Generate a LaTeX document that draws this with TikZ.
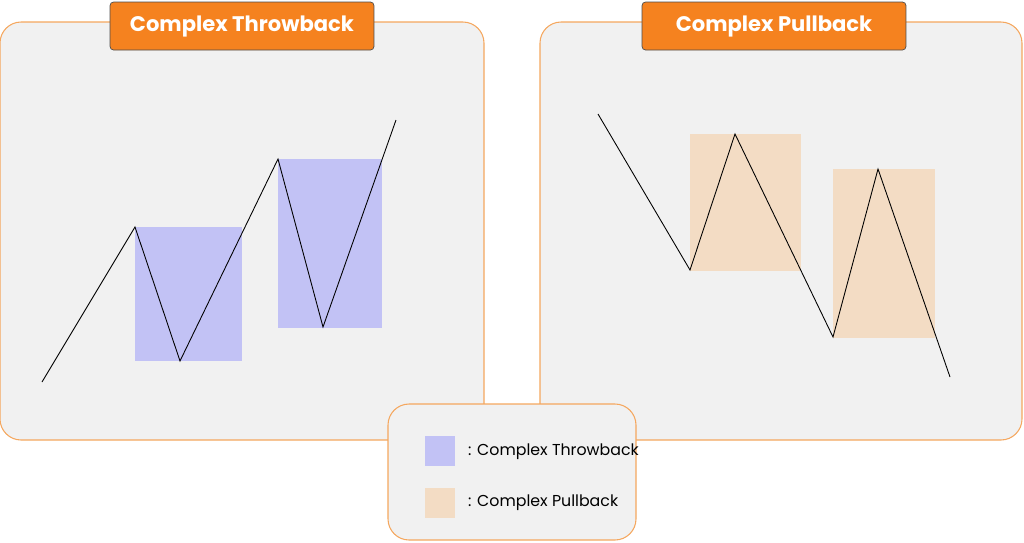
\documentclass[tikz,border=0pt]{standalone}
\usepackage{fontspec}
\setmainfont{Poppins}
\usetikzlibrary{positioning}
\definecolor{panelbg}{HTML}{F1F1F1}
\definecolor{panelline}{HTML}{F5A75E}
\definecolor{titleorange}{HTML}{F5821F}
\definecolor{throwblue}{HTML}{C2C2F5}
\definecolor{pullpeach}{HTML}{F3DCC4}
\tikzset{
  panel/.style={draw=panelline, fill=panelbg, rounded corners=12pt, line width=0.6pt},
  titlebox/.style={draw=black!70, fill=titleorange, rounded corners=2pt, text=white, font=\bfseries\large, minimum width=5.28cm, minimum height=0.96cm},
  wave/.style={black, line width=0.5pt},
  legendtext/.style={anchor=west, font=\small}
}
\begin{document}
\begin{tikzpicture}[x=0.02cm, y=-0.02cm]
\useasboundingbox (0,0) rectangle (1024,542);
% panels
\draw[panel] (0,22) rectangle (484,440);
\draw[panel] (540,22) rectangle (1022,440);
\node[titlebox] (titleL) at (242,26) {Complex Throwback};
\node[titlebox] (titleR) at (774,26) {Complex Pullback};
% throwback
\fill[throwblue] (135,227) rectangle (242,361);
\fill[throwblue] (278,159) rectangle (382,328);
\coordinate (a0) at (42,382); \coordinate (a1) at (135,227);
\coordinate (a2) at (180,361); \coordinate (a3) at (278,159);
\coordinate (a4) at (323,327); \coordinate (a5) at (396,120);
\draw[wave] (a0) -- (a1) -- (a2) -- (a3) -- (a4) -- (a5);
% pullback
\fill[pullpeach] (690,134) rectangle (801,271);
\fill[pullpeach] (833,169) rectangle (935,338);
\coordinate (b0) at (598,114); \coordinate (b1) at (690,270);
\coordinate (b2) at (735,134); \coordinate (b3) at (833,337);
\coordinate (b4) at (878,169); \coordinate (b5) at (950,377);
\draw[wave] (b0) -- (b1) -- (b2) -- (b3) -- (b4) -- (b5);
% legend
\draw[panel] (388,404) rectangle (636,540);
\fill[throwblue] (425,436) rectangle (455,466);
\fill[pullpeach] (425,488) rectangle (455,518);
\node[legendtext] (legT) at (462,452) {: Complex Throwback};
\node[legendtext] (legP) at (462,503) {: Complex Pullback};
\end{tikzpicture}
\end{document}
